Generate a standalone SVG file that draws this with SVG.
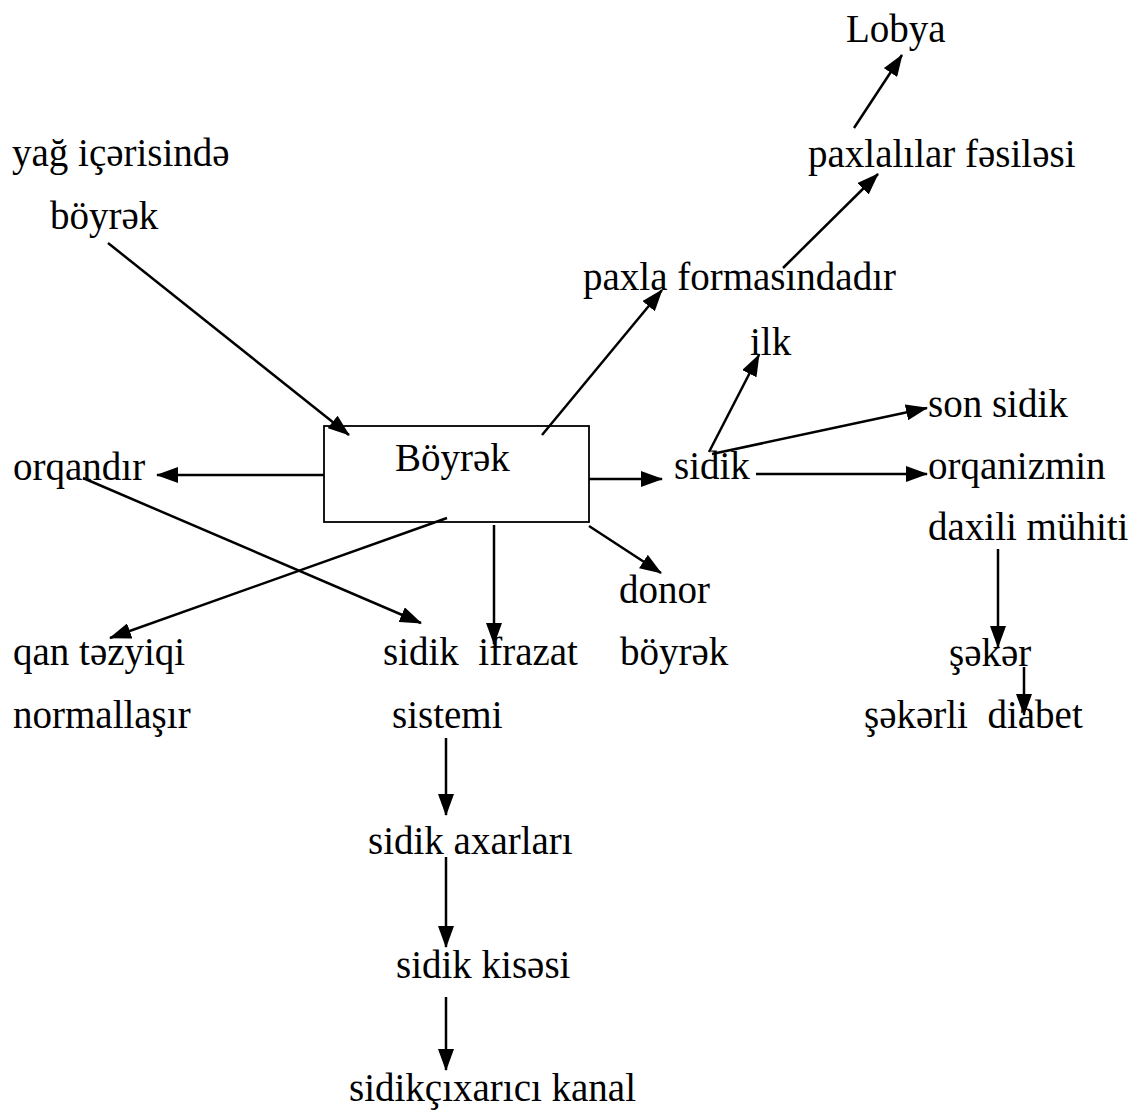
<svg xmlns="http://www.w3.org/2000/svg" width="1131" height="1110" viewBox="0 0 1131 1110">
<style>
text{font-family:"Liberation Serif","Times New Roman",serif;font-size:39px;fill:#000}
.c line{stroke:#000;stroke-width:2.5;marker-end:url(#ah)}
</style>
<defs>
<marker id="ah" markerUnits="userSpaceOnUse" markerWidth="22" markerHeight="16" refX="21" refY="8" orient="auto">
<path d="M0,0 L22,8 L0,16 z" fill="#000"/>
</marker>
</defs>
<rect width="1131" height="1110" fill="#fff"/>
<g id="n-boyrek"><rect x="324" y="426" width="265" height="96" fill="none" stroke="#000" stroke-width="1.8"/><text x="395" y="471">Böyrək</text></g>
<g id="n-lobya"><text x="846" y="42">Lobya</text></g>
<g id="n-yag"><text x="12" y="166">yağ içərisində</text><text x="50" y="229">böyrək</text></g>
<g id="n-fesile"><text x="808" y="167">paxlalılar fəsiləsi</text></g>
<g id="n-paxla"><text x="583" y="290">paxla formasındadır</text></g>
<g id="n-ilk"><text x="750" y="355">ilk</text></g>
<g id="n-son"><text x="928" y="417">son sidik</text></g>
<g id="n-sidik"><text x="674" y="479">sidik</text></g>
<g id="n-orqanizm"><text x="928" y="479">orqanizmin</text><text x="928" y="540">daxili mühiti</text></g>
<g id="n-orqandir"><text x="13" y="480">orqandır</text></g>
<g id="n-donor"><text x="619" y="603">donor</text><text x="620" y="665">böyrək</text></g>
<g id="n-qan"><text x="13" y="665">qan təzyiqi</text><text x="13" y="728">normallaşır</text></g>
<g id="n-ifrazat"><text x="383" y="665" xml:space="preserve">sidik  ifrazat</text><text x="392" y="728">sistemi</text></g>
<g id="n-seker"><text x="949" y="666">şəkər</text></g>
<g id="n-diabet"><text x="864" y="728" xml:space="preserve">şəkərli  diabet</text></g>
<g id="n-axar"><text x="368" y="854">sidik axarları</text></g>
<g id="n-kise"><text x="396" y="978">sidik kisəsi</text></g>
<g id="n-kanal"><text x="349" y="1101">sidikçıxarıcı kanal</text></g>
<g id="connectors" class="c">
<line x1="108" y1="243" x2="349" y2="435"/>
<line x1="542" y1="435" x2="662" y2="290"/>
<line x1="783" y1="268" x2="878" y2="174"/>
<line x1="854" y1="128" x2="902" y2="55"/>
<line x1="324" y1="475" x2="157" y2="475"/>
<line x1="83" y1="478" x2="421" y2="623"/>
<line x1="447" y1="518" x2="110" y2="638"/>
<line x1="494" y1="525" x2="494" y2="644"/>
<line x1="589" y1="479" x2="662" y2="479"/>
<line x1="589" y1="526" x2="661" y2="573"/>
<line x1="709" y1="452" x2="759" y2="355"/>
<line x1="712" y1="454" x2="927" y2="408"/>
<line x1="756" y1="474" x2="927" y2="474"/>
<line x1="998" y1="549" x2="998" y2="647"/>
<line x1="1024" y1="667" x2="1024" y2="715"/>
<line x1="446" y1="738" x2="446" y2="815"/>
<line x1="446" y1="857" x2="446" y2="947"/>
<line x1="446" y1="997" x2="446" y2="1070"/>
</g>
</svg>
